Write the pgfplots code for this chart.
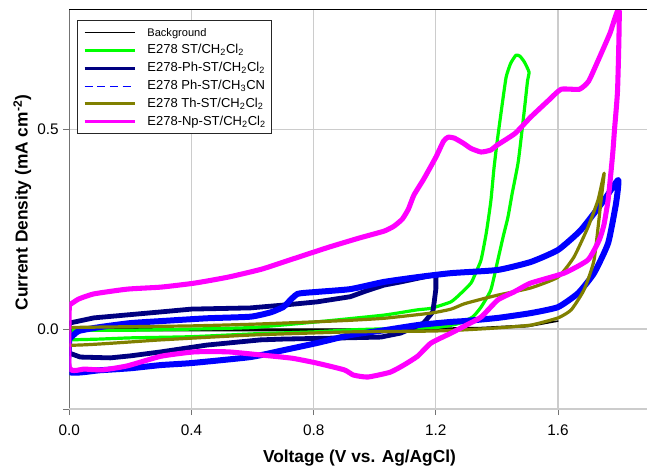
\documentclass[border=0pt]{standalone}
\usepackage{fontspec}
\setmainfont{Liberation Sans}
\usepackage{pgfplots}
\pgfplotsset{compat=1.18}

\definecolor{cvgreen}{RGB}{0,255,0}
\definecolor{cvnavy}{RGB}{0,0,128}
\definecolor{cvblue}{RGB}{0,0,255}
\definecolor{cvolive}{RGB}{128,128,0}
\definecolor{cvmagenta}{RGB}{255,0,255}
\newcommand{\sub}[1]{\textsubscript{#1}}

\begin{document}
\begin{tikzpicture}
\begin{axis}[
  anchor=south west, at={(0,0)},
  scale only axis, width=435.3pt, height=299.8pt,
  xmin=0, xmax=1.9, ymin=-0.2, ymax=0.8,
  xtick={0,0.4,0.8,1.2,1.6},
  ytick={0,0.5},
  extra y ticks={-0.2}, extra y tick labels={},
  tick pos=left, tick align=outside,
  major tick length=4.5pt,
  every tick/.style={draw=black!55, line width=0.75pt},
  grid=major,
  major grid style={draw=black!20, line width=0.9pt},
  axis line style={draw=black!55, line width=1.2pt},
  ticklabel style={font=\fontsize{11.5}{13}\selectfont},
  xticklabel style={yshift=-3.5pt},
  /pgf/number format/.cd, fixed, fixed zerofill, precision=1, assume math mode=true,
  /pgfplots/.cd,
  xlabel={Voltage (V vs. Ag/AgCl)},
  ylabel={Current Density (mA cm\textsuperscript{-2})},
  label style={font=\fontsize{13}{15}\selectfont\bfseries},
  xlabel style={at={(axis description cs:0.5,-0.1326)}, anchor=base},
  ylabel style={at={(axis description cs:-0.081,0.5166)}, anchor=center},
  legend cell align=left,
  legend image code/.code={\draw[#1] (0pt,0pt) -- (37.5pt,0pt);},
  legend style={at={(rel axis cs:0.0138,0.9732)}, anchor=north west,
    draw=black!85, line width=0.75pt, fill=white,
    font=\fontsize{9.75}{12}\selectfont,
    inner xsep=4pt, inner ysep=2.5pt, row sep=0pt, column sep=8.5pt,
    nodes={inner xsep=0pt, inner ysep=0pt, text height=9.2pt, text depth=4.15pt}},
  after end axis/.code={\draw[black, line width=0.75pt] (rel axis cs:0,1) -- (rel axis cs:1,1);},
]

% background scan
\addplot[black, line width=1.1pt, line join=round, forget plot] coordinates {
 (0,0.002) (0.3,0.001) (0.6,0.0) (1.0,0.0) (1.2,0.002) (1.35,0.004) (1.5,0.01) (1.6,0.02)
 (1.5,0.006) (1.3,0.0) (1.0,-0.003) (0.6,-0.004) (0.3,-0.004) (0,-0.003) (0,0.002)};

% E278 ST / CH2Cl2
\addplot[cvgreen, line width=2.4pt, line join=round, smooth, tension=0.3, forget plot] coordinates {
 (0,-0.027) (0.1,-0.025) (0.2,-0.022) (0.4,-0.019) (0.6,-0.012) (0.8,-0.007) (0.92,-0.002)
 (1.0,0.0) (1.2,0.004) (1.27,0.013) (1.32,0.03) (1.348,0.055) (1.38,0.098) (1.403,0.173)
 (1.42,0.23) (1.436,0.28) (1.45,0.34) (1.47,0.42) (1.49,0.55) (1.50,0.62) (1.505,0.643)
 (1.49,0.668) (1.475,0.683) (1.462,0.685) (1.445,0.665) (1.43,0.63) (1.415,0.55) (1.40,0.465)
 (1.39,0.40) (1.38,0.32) (1.365,0.24) (1.348,0.173) (1.33,0.14) (1.315,0.115) (1.28,0.088)
 (1.249,0.068) (1.184,0.052) (1.138,0.048) (1.03,0.035) (0.81,0.018) (0.6,0.004)
 (0.4,0.0) (0.19,-0.003) (0,-0.004) (0,-0.027)};

% E278-Ph-ST / CH2Cl2
\addplot[cvnavy, line width=3.6pt, line join=round, forget plot] coordinates {
 (0,0.015) (0.08,0.028) (0.3,0.043) (0.4,0.05) (0.593,0.053) (0.7,0.06) (0.81,0.068)
 (0.92,0.081) (0.97,0.095) (1.03,0.11) (1.085,0.118) (1.19,0.135) (1.20,0.137)
 (1.20,0.10) (1.195,0.07) (1.19,0.043) (1.16,0.015) (1.085,-0.01) (1.02,-0.02)
 (0.9,-0.022) (0.7,-0.025) (0.626,-0.027) (0.45,-0.04) (0.30,-0.057) (0.2,-0.067)
 (0.134,-0.072) (0.036,-0.07) (0,-0.06) (0,0.015)};

% E278 Ph-ST / CH3CN
\addplot[cvblue, line width=4.5pt, line join=round, smooth, tension=0.3, forget plot] coordinates {
 (0,-0.025) (0.03,-0.005) (0.1,0.005) (0.2,0.015) (0.3,0.02) (0.45,0.027) (0.593,0.031)
 (0.66,0.042) (0.70,0.055) (0.714,0.065) (0.747,0.088) (0.81,0.093) (0.92,0.10)
 (1.03,0.118) (1.14,0.13) (1.25,0.14) (1.403,0.148) (1.511,0.168) (1.60,0.198)
 (1.675,0.248) (1.751,0.323) (1.797,0.373)
 (1.79,0.315) (1.764,0.215) (1.718,0.14) (1.666,0.09) (1.60,0.055) (1.511,0.04)
 (1.403,0.028) (1.292,0.02) (1.25,0.018) (1.14,0.01) (1.03,-0.003) (0.92,-0.015)
 (0.81,-0.035) (0.70,-0.053) (0.593,-0.07) (0.4,-0.085) (0.30,-0.09) (0.2,-0.098)
 (0.1,-0.103) (0,-0.107) (0,-0.025)};

% E278 Th-ST / CH2Cl2
\addplot[cvolive, line width=2.4pt, line join=round, smooth, tension=0.3, forget plot] coordinates {
 (0,0.004) (0.2,0.006) (0.4,0.008) (0.593,0.012) (0.8,0.018) (0.92,0.022) (1.03,0.027)
 (1.184,0.04) (1.25,0.05) (1.292,0.063) (1.35,0.075) (1.403,0.085) (1.511,0.103)
 (1.60,0.13) (1.652,0.18) (1.698,0.255) (1.731,0.323) (1.751,0.39)
 (1.741,0.323) (1.718,0.173) (1.685,0.098) (1.643,0.048) (1.60,0.028) (1.511,0.01)
 (1.403,0.003) (1.292,-0.002) (1.184,-0.005) (0.92,-0.007) (0.593,-0.015)
 (0.30,-0.027) (0,-0.04) (0,0.004)};

% E278-Np-ST / CH2Cl2
\addplot[cvmagenta, line width=3.8pt, line join=round, smooth, tension=0.3, forget plot] coordinates {
 (0,0.06) (0.03,0.075) (0.08,0.088) (0.19,0.10) (0.30,0.105) (0.41,0.115) (0.52,0.13)
 (0.63,0.15) (0.73,0.175) (0.85,0.205) (0.95,0.228) (1.03,0.245) (1.062,0.257)
 (1.09,0.275) (1.11,0.30) (1.128,0.335) (1.16,0.375) (1.20,0.43) (1.225,0.47) (1.24,0.48)
 (1.26,0.478) (1.29,0.465) (1.315,0.452) (1.348,0.443) (1.38,0.448) (1.40,0.46) (1.46,0.49)
 (1.51,0.53) (1.57,0.573) (1.61,0.60) (1.67,0.60) (1.70,0.62) (1.73,0.67) (1.77,0.74)
 (1.80,0.80)
 (1.795,0.6) (1.785,0.5) (1.78,0.448) (1.774,0.398) (1.764,0.323) (1.75,0.26)
 (1.735,0.223) (1.698,0.173) (1.62,0.14) (1.51,0.115) (1.456,0.093) (1.403,0.073)
 (1.348,0.03) (1.30,0.01) (1.25,-0.01) (1.184,-0.035) (1.14,-0.068) (1.095,-0.09)
 (1.05,-0.108) (0.977,-0.12) (0.93,-0.115) (0.90,-0.102) (0.81,-0.085) (0.73,-0.073)
 (0.63,-0.065) (0.52,-0.057) (0.41,-0.057) (0.30,-0.068) (0.19,-0.092) (0.11,-0.102)
 (0.05,-0.1) (0,-0.097) (0,0.06)};

\addlegendimage{black, line width=0.75pt}
\addlegendentry{\fontsize{8.3}{10}\selectfont Background}
\addlegendimage{cvgreen, line width=2.2pt}
\addlegendentry{E278 ST/CH\sub{2}Cl\sub{2}}
\addlegendimage{cvnavy, line width=2.2pt}
\addlegendentry{E278-Ph-ST/CH\sub{2}Cl\sub{2}}
\addlegendimage{cvblue, line width=0.9pt, dash pattern=on 6pt off 3.5pt}
\addlegendentry{E278 Ph-ST/CH\sub{3}CN}
\addlegendimage{cvolive, line width=2.2pt}
\addlegendentry{E278 Th-ST/CH\sub{2}Cl\sub{2}}
\addlegendimage{cvmagenta, line width=2.2pt}
\addlegendentry{E278-Np-ST/CH\sub{2}Cl\sub{2}}
\end{axis}
\pgfresetboundingbox
\useasboundingbox (-52pt,-42pt) rectangle (433.3pt,306.8pt);
\end{tikzpicture}
\end{document}
